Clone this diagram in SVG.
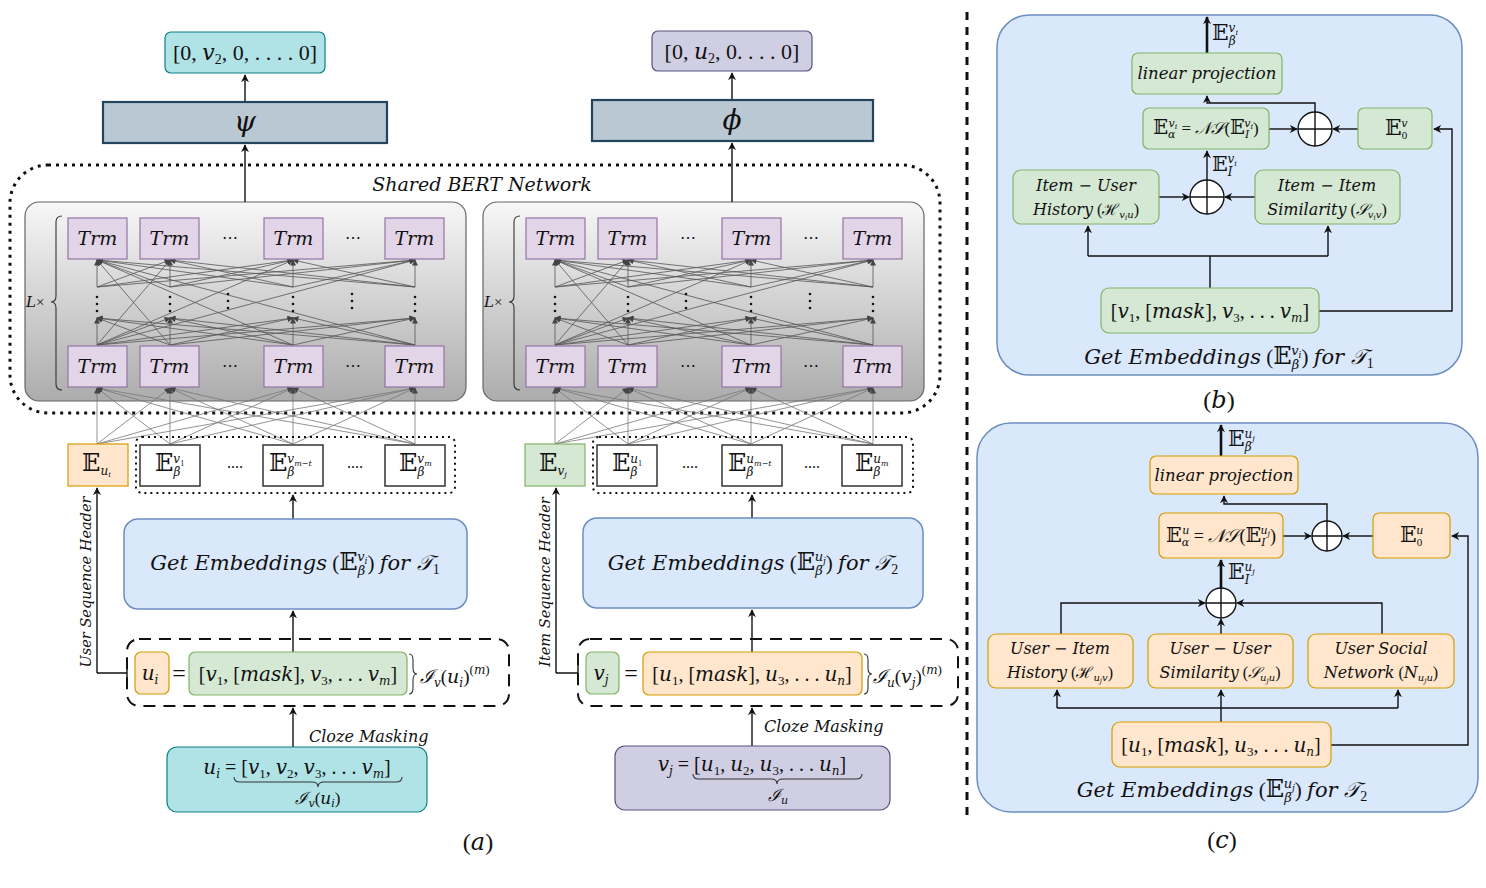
<svg xmlns="http://www.w3.org/2000/svg" width="1486" height="888" viewBox="0 0 1486 888">
<style>
.m{font-family:"Liberation Serif","DejaVu Serif",serif;fill:#111}
.i{font-family:"DejaVu Serif","Liberation Serif",serif;font-style:italic}
.E{font-size:1.15em}
.c{stroke:#111;stroke-width:1.4;fill:none}
.ca{stroke:#111;stroke-width:1.4;fill:none;marker-end:url(#ah)}
.ct{stroke:#111;stroke-width:2.6;fill:none;marker-end:url(#ah)}
.mesh line{stroke:#555;stroke-width:0.8;marker-end:url(#sh)}
.inp line{stroke:#777;stroke-width:0.8;marker-end:url(#sh)}
.trm{fill:#e1d5e7;stroke:#9673a6;stroke-width:1.2}
.grn{fill:#d5e8d4;stroke:#82b366;stroke-width:1.2}
.org{fill:#ffe6cc;stroke:#d79b00;stroke-width:1.2}
.blu{fill:#dae8fc;stroke:#6c8ebf;stroke-width:1.5}
.teal{fill:#b0e3e6;stroke:#0e8088;stroke-width:1.2}
.pur{fill:#d0cee2;stroke:#56517e;stroke-width:1.2}
.slate{fill:#bac8d3;stroke:#23445d;stroke-width:2.2}
.wht{fill:#fff;stroke:#333;stroke-width:1.5}
.brace{stroke:#333;stroke-width:1.1;fill:none}
.dot{fill:#111}
</style>
<defs>
<marker id="ah" viewBox="0 0 10 10" refX="9" refY="5" markerWidth="8" markerHeight="8" markerUnits="userSpaceOnUse" orient="auto"><path d="M0,0 L10,5 L0,10 L3,5 z" fill="#111"/></marker>
<marker id="sh" viewBox="0 0 10 10" refX="9" refY="5" markerWidth="7" markerHeight="6" markerUnits="userSpaceOnUse" orient="auto"><path d="M0,0 L10,5 L0,10 z" fill="#444"/></marker>
<linearGradient id="gg" x1="0" y1="0" x2="0" y2="1"><stop offset="0" stop-color="#f7f7f7"/><stop offset="1" stop-color="#acacac"/></linearGradient>
<g id="bertmesh">
<g class="inp">
<line x1="97" y1="444" x2="97" y2="388"/><line x1="97" y1="444" x2="170" y2="388"/><line x1="97" y1="444" x2="293" y2="388"/><line x1="97" y1="444" x2="415" y2="388"/>
<line x1="170" y1="444" x2="97" y2="388"/><line x1="170" y1="444" x2="170" y2="388"/><line x1="170" y1="444" x2="293" y2="388"/><line x1="170" y1="444" x2="415" y2="388"/>
<line x1="293" y1="444" x2="97" y2="388"/><line x1="293" y1="444" x2="170" y2="388"/><line x1="293" y1="444" x2="293" y2="388"/><line x1="293" y1="444" x2="415" y2="388"/>
<line x1="415" y1="444" x2="97" y2="388"/><line x1="415" y1="444" x2="170" y2="388"/><line x1="415" y1="444" x2="293" y2="388"/><line x1="415" y1="444" x2="415" y2="388"/>
</g>
<g class="mesh">
<line x1="97" y1="345" x2="97" y2="318"/><line x1="97" y1="345" x2="170" y2="318"/><line x1="97" y1="345" x2="293" y2="318"/><line x1="97" y1="345" x2="415" y2="318"/>
<line x1="170" y1="345" x2="97" y2="318"/><line x1="170" y1="345" x2="170" y2="318"/><line x1="170" y1="345" x2="293" y2="318"/><line x1="170" y1="345" x2="415" y2="318"/>
<line x1="293" y1="345" x2="97" y2="318"/><line x1="293" y1="345" x2="170" y2="318"/><line x1="293" y1="345" x2="293" y2="318"/><line x1="293" y1="345" x2="415" y2="318"/>
<line x1="415" y1="345" x2="97" y2="318"/><line x1="415" y1="345" x2="170" y2="318"/><line x1="415" y1="345" x2="293" y2="318"/><line x1="415" y1="345" x2="415" y2="318"/>
<line x1="97" y1="287" x2="97" y2="260"/><line x1="97" y1="287" x2="170" y2="260"/><line x1="97" y1="287" x2="293" y2="260"/><line x1="97" y1="287" x2="415" y2="260"/>
<line x1="170" y1="287" x2="97" y2="260"/><line x1="170" y1="287" x2="170" y2="260"/><line x1="170" y1="287" x2="293" y2="260"/><line x1="170" y1="287" x2="415" y2="260"/>
<line x1="293" y1="287" x2="97" y2="260"/><line x1="293" y1="287" x2="170" y2="260"/><line x1="293" y1="287" x2="293" y2="260"/><line x1="293" y1="287" x2="415" y2="260"/>
<line x1="415" y1="287" x2="97" y2="260"/><line x1="415" y1="287" x2="170" y2="260"/><line x1="415" y1="287" x2="293" y2="260"/><line x1="415" y1="287" x2="415" y2="260"/>
<line x1="97" y1="345" x2="170" y2="260"/><line x1="170" y1="345" x2="97" y2="260"/><line x1="97" y1="345" x2="293" y2="260"/><line x1="293" y1="345" x2="97" y2="260"/><line x1="415" y1="345" x2="97" y2="260"/><line x1="97" y1="345" x2="415" y2="260"/>
</g>
<g class="dot">
<circle cx="97" cy="297" r="1.3"/><circle cx="97" cy="304" r="1.3"/><circle cx="97" cy="311" r="1.3"/>
<circle cx="170" cy="297" r="1.3"/><circle cx="170" cy="304" r="1.3"/><circle cx="170" cy="311" r="1.3"/>
<circle cx="228" cy="294" r="1.3"/><circle cx="228" cy="301" r="1.3"/><circle cx="228" cy="308" r="1.3"/>
<circle cx="293" cy="297" r="1.3"/><circle cx="293" cy="304" r="1.3"/><circle cx="293" cy="311" r="1.3"/>
<circle cx="352" cy="294" r="1.3"/><circle cx="352" cy="301" r="1.3"/><circle cx="352" cy="308" r="1.3"/>
<circle cx="415" cy="297" r="1.3"/><circle cx="415" cy="304" r="1.3"/><circle cx="415" cy="311" r="1.3"/>
</g>
</g>
</defs>
<rect width="1486" height="888" fill="#fff"/>

<!-- Containers -->
<g id="shared-bert">
<rect x="10" y="165" width="930" height="248" rx="38" fill="none" stroke="#111" stroke-width="3" stroke-dasharray="3 5"/>
<text class="m i" x="482" y="191" font-size="19" text-anchor="middle">Shared BERT Network</text>
</g>
<g id="bert-left">
<rect x="25" y="202" width="441" height="199" rx="14" fill="url(#gg)" stroke="#666" stroke-width="1.2"/>
<text class="m" x="26" y="307" font-size="15"><tspan class="i">L</tspan>×</text>
<path class="brace" d="M62 216 Q56 216 56 222 L56 296 Q56 302 51 302 Q56 302 56 308 L56 384 Q56 390 62 390"/>
</g>
<g id="bert-right">
<rect x="483" y="202" width="441" height="199" rx="14" fill="url(#gg)" stroke="#666" stroke-width="1.2"/>
<text class="m" x="484" y="307" font-size="15"><tspan class="i">L</tspan>×</text>
<path class="brace" d="M520 216 Q514 216 514 222 L514 296 Q514 302 509 302 Q514 302 514 308 L514 384 Q514 390 520 390"/>
</g>
<g id="panel-b">
<rect class="blu" x="997" y="15" width="465" height="360" rx="32" stroke-width="2"/>
</g>
<g id="panel-c">
<rect class="blu" x="977" y="423" width="501" height="389" rx="34" stroke-width="2"/>
</g>

<!-- Connectors -->
<g id="connectors">
<use href="#bertmesh"/>
<use href="#bertmesh" transform="translate(458,0)"/>
<path class="ca" d="M245 102 V75"/>
<path class="ca" d="M245 202 V145"/>
<path class="ca" d="M732 100 V73"/>
<path class="ca" d="M732 202 V143"/>
<path class="ca" d="M293 519 V495"/>
<path class="ca" d="M752 518 V495"/>
<path class="ca" d="M97 673 V488"/>
<path class="c" d="M97 673 H127 M127 665 V681"/>
<path class="ca" d="M556 673 V488"/>
<path class="c" d="M556 673 H578 M578 665 V681"/>
<path class="ca" d="M293 652 V611"/>
<path class="ca" d="M293 747 V708"/>
<path class="ca" d="M752 652 V610"/>
<path class="ca" d="M752 746 V708"/>
<line x1="967" y1="12" x2="967" y2="815" stroke="#111" stroke-width="3" stroke-dasharray="8 7"/>
<path class="ct" d="M1207 53 V17"/>
<path class="ca" d="M1269 129 H1297"/>
<path class="ca" d="M1358 129 H1333"/>
<path class="ca" d="M1315 112 V103 H1207 V96"/>
<path class="ca" d="M1207 180 V151"/>
<path class="ca" d="M1159 197 H1189"/>
<path class="ca" d="M1255 197 H1225"/>
<path class="c" d="M1210 288 V256 M1088 256 H1328"/>
<path class="ca" d="M1088 256 V226"/>
<path class="ca" d="M1328 256 V226"/>
<path class="ca" d="M1319 311 H1452 V129 H1434"/>
<path class="ct" d="M1221 456 V425"/>
<path class="ca" d="M1283 536 H1311"/>
<path class="ca" d="M1373 536 H1343"/>
<path class="ca" d="M1327 521 V504 H1224 V496"/>
<path class="ct" d="M1221 588 V560"/>
<path class="ca" d="M1061 634 V603 H1205"/>
<path class="ca" d="M1382 634 V603 H1237"/>
<path class="ca" d="M1221 634 V619"/>
<path class="c" d="M1221 722 V708 M1057 708 H1398"/>
<path class="ca" d="M1057 708 V690"/>
<path class="ca" d="M1221 708 V690"/>
<path class="ca" d="M1398 708 V690"/>
<path class="ca" d="M1331 745 H1468 V536 H1452"/>
</g>

<!-- Outputs -->
<g id="out-left">
<rect class="teal" x="165" y="32" width="160" height="41" rx="6"/>
<text class="m" x="245" y="60" font-size="22" text-anchor="middle">[0, <tspan class="i">v</tspan><tspan font-size="14" dy="4">2</tspan><tspan dy="-4">, 0, . . . . 0]</tspan></text>
</g>
<g id="psi">
<rect class="slate" x="103" y="102" width="284" height="41"/>
<text class="m i" x="245" y="131" font-size="28" text-anchor="middle">ψ</text>
</g>
<g id="out-right">
<rect class="pur" x="652" y="31" width="160" height="40" rx="6"/>
<text class="m" x="732" y="59" font-size="22" text-anchor="middle">[0, <tspan class="i">u</tspan><tspan font-size="14" dy="4">2</tspan><tspan dy="-4">, 0. . . . 0]</tspan></text>
</g>
<g id="phi">
<rect class="slate" x="592" y="100" width="281" height="41"/>
<text class="m i" x="732" y="129" font-size="28" text-anchor="middle">ϕ</text>
</g>

<!-- Trm blocks -->
<g id="trm-left">
<rect class="trm" x="68" y="218" width="59" height="41"/><text class="m i" x="97.5" y="245" font-size="19" text-anchor="middle">Trm</text>
<rect class="trm" x="140" y="218" width="59" height="41"/><text class="m i" x="169.5" y="245" font-size="19" text-anchor="middle">Trm</text>
<rect class="trm" x="264" y="218" width="59" height="41"/><text class="m i" x="293.5" y="245" font-size="19" text-anchor="middle">Trm</text>
<rect class="trm" x="385" y="218" width="59" height="41"/><text class="m i" x="414.5" y="245" font-size="19" text-anchor="middle">Trm</text>
<rect class="trm" x="68" y="346" width="59" height="41"/><text class="m i" x="97.5" y="373" font-size="19" text-anchor="middle">Trm</text>
<rect class="trm" x="140" y="346" width="59" height="41"/><text class="m i" x="169.5" y="373" font-size="19" text-anchor="middle">Trm</text>
<rect class="trm" x="264" y="346" width="59" height="41"/><text class="m i" x="293.5" y="373" font-size="19" text-anchor="middle">Trm</text>
<rect class="trm" x="385" y="346" width="59" height="41"/><text class="m i" x="414.5" y="373" font-size="19" text-anchor="middle">Trm</text>
<text class="m" x="230" y="243" font-size="16" text-anchor="middle">⋯</text>
<text class="m" x="353" y="243" font-size="16" text-anchor="middle">⋯</text>
<text class="m" x="230" y="371" font-size="16" text-anchor="middle">⋯</text>
<text class="m" x="353" y="371" font-size="16" text-anchor="middle">⋯</text>
</g>
<g id="trm-right">
<rect class="trm" x="526" y="218" width="59" height="41"/><text class="m i" x="555.5" y="245" font-size="19" text-anchor="middle">Trm</text>
<rect class="trm" x="598" y="218" width="59" height="41"/><text class="m i" x="627.5" y="245" font-size="19" text-anchor="middle">Trm</text>
<rect class="trm" x="722" y="218" width="59" height="41"/><text class="m i" x="751.5" y="245" font-size="19" text-anchor="middle">Trm</text>
<rect class="trm" x="843" y="218" width="59" height="41"/><text class="m i" x="872.5" y="245" font-size="19" text-anchor="middle">Trm</text>
<rect class="trm" x="526" y="346" width="59" height="41"/><text class="m i" x="555.5" y="373" font-size="19" text-anchor="middle">Trm</text>
<rect class="trm" x="598" y="346" width="59" height="41"/><text class="m i" x="627.5" y="373" font-size="19" text-anchor="middle">Trm</text>
<rect class="trm" x="722" y="346" width="59" height="41"/><text class="m i" x="751.5" y="373" font-size="19" text-anchor="middle">Trm</text>
<rect class="trm" x="843" y="346" width="59" height="41"/><text class="m i" x="872.5" y="373" font-size="19" text-anchor="middle">Trm</text>
<text class="m" x="688" y="243" font-size="16" text-anchor="middle">⋯</text>
<text class="m" x="811" y="243" font-size="16" text-anchor="middle">⋯</text>
<text class="m" x="688" y="371" font-size="16" text-anchor="middle">⋯</text>
<text class="m" x="811" y="371" font-size="16" text-anchor="middle">⋯</text>
</g>

<!-- Embedding rows -->
<g id="emb-left">
<rect class="org" x="68" y="444" width="60" height="42"/>
<text class="m" x="82" y="471" font-size="21"><tspan class="E">𝔼</tspan><tspan class="i" font-size="12" dy="4">u</tspan><tspan class="i" font-size="8" dy="2">i</tspan></text>
<rect x="136" y="437" width="319" height="56" rx="6" fill="none" stroke="#111" stroke-width="2" stroke-dasharray="2 4"/>
<rect class="wht" x="140" y="445" width="60" height="41"/>
<text class="m" x="155" y="471" font-size="21"><tspan class="E">𝔼</tspan><tspan class="i" font-size="12" dy="5">β</tspan><tspan class="i" font-size="12" dx="-7" dy="-13">v</tspan><tspan font-size="8" dy="3">1</tspan></text>
<rect class="wht" x="263" y="445" width="60" height="41"/>
<text class="m" x="269" y="471" font-size="21"><tspan class="E">𝔼</tspan><tspan class="i" font-size="12" dy="5">β</tspan><tspan class="i" font-size="12" dx="-7" dy="-13">v</tspan><tspan class="i" font-size="8" dy="3">m−t</tspan></text>
<rect class="wht" x="385" y="445" width="60" height="41"/>
<text class="m" x="399" y="471" font-size="21"><tspan class="E">𝔼</tspan><tspan class="i" font-size="12" dy="5">β</tspan><tspan class="i" font-size="12" dx="-7" dy="-13">v</tspan><tspan class="i" font-size="8" dy="3">m</tspan></text>
<text class="m" x="235" y="468" font-size="16" text-anchor="middle">....</text>
<text class="m" x="355" y="468" font-size="16" text-anchor="middle">....</text>
</g>
<g id="emb-right">
<rect class="grn" x="525" y="444" width="60" height="42"/>
<text class="m" x="539" y="471" font-size="21"><tspan class="E">𝔼</tspan><tspan class="i" font-size="12" dy="4">v</tspan><tspan class="i" font-size="8" dy="2">j</tspan></text>
<rect x="593" y="437" width="320" height="56" rx="6" fill="none" stroke="#111" stroke-width="2" stroke-dasharray="2 4"/>
<rect class="wht" x="597" y="445" width="60" height="41"/>
<text class="m" x="612" y="471" font-size="21"><tspan class="E">𝔼</tspan><tspan class="i" font-size="12" dy="5">β</tspan><tspan class="i" font-size="12" dx="-7" dy="-13">u</tspan><tspan font-size="8" dy="3">1</tspan></text>
<rect class="wht" x="722" y="445" width="60" height="41"/>
<text class="m" x="728" y="471" font-size="21"><tspan class="E">𝔼</tspan><tspan class="i" font-size="12" dy="5">β</tspan><tspan class="i" font-size="12" dx="-7" dy="-13">u</tspan><tspan class="i" font-size="8" dy="3">m−t</tspan></text>
<rect class="wht" x="842" y="445" width="60" height="41"/>
<text class="m" x="855" y="471" font-size="21"><tspan class="E">𝔼</tspan><tspan class="i" font-size="12" dy="5">β</tspan><tspan class="i" font-size="12" dx="-7" dy="-13">u</tspan><tspan class="i" font-size="8" dy="3">m</tspan></text>
<text class="m" x="690" y="468" font-size="16" text-anchor="middle">....</text>
<text class="m" x="812" y="468" font-size="16" text-anchor="middle">....</text>
</g>

<!-- Get embeddings boxes -->
<g id="getemb-left">
<rect class="blu" x="124" y="519" width="343" height="90" rx="14"/>
<text class="m" x="295" y="570" font-size="21" text-anchor="middle"><tspan class="i">Get Embeddings</tspan> (<tspan class="E">𝔼</tspan><tspan class="i" font-size="13" dy="5">β</tspan><tspan class="i" font-size="13" dx="-8" dy="-14">v</tspan><tspan class="i" font-size="9" dy="3">i</tspan><tspan dy="6">) </tspan><tspan class="i">for 𝒯</tspan><tspan font-size="14" dy="4">1</tspan></text>
</g>
<g id="getemb-right">
<rect class="blu" x="583" y="518" width="340" height="90" rx="14"/>
<text class="m" x="753" y="570" font-size="21" text-anchor="middle"><tspan class="i">Get Embeddings</tspan> (<tspan class="E">𝔼</tspan><tspan class="i" font-size="13" dy="5">β</tspan><tspan class="i" font-size="13" dx="-8" dy="-14">u</tspan><tspan class="i" font-size="9" dy="3">j</tspan><tspan dy="6">) </tspan><tspan class="i">for 𝒯</tspan><tspan font-size="14" dy="4">2</tspan></text>
</g>

<!-- Sequence headers -->
<g id="header-left">
<text class="m i" font-size="14.5" text-anchor="middle" transform="translate(91,582) rotate(-90)">User Sequence Header</text>
</g>
<g id="header-right">
<text class="m i" font-size="14.5" text-anchor="middle" transform="translate(550,582) rotate(-90)">Item Sequence Header</text>
</g>

<!-- Masked sequences -->
<g id="masked-left">
<rect x="127" y="639" width="382" height="67" rx="12" fill="none" stroke="#111" stroke-width="2" stroke-dasharray="12 8"/>
<rect class="org" x="135" y="652" width="34" height="42" rx="6"/>
<text class="m i" x="150" y="680" font-size="20" text-anchor="middle">u<tspan font-size="12" dy="4">i</tspan></text>
<text class="m" x="179" y="681" font-size="24" text-anchor="middle" fill="#555">=</text>
<rect class="grn" x="189" y="652" width="218" height="43" rx="6"/>
<text class="m" x="298" y="681" font-size="20" text-anchor="middle">[<tspan class="i">v</tspan><tspan font-size="13" dy="4">1</tspan><tspan dy="-4">, [</tspan><tspan class="i">mask</tspan>], <tspan class="i">v</tspan><tspan font-size="13" dy="4">3</tspan><tspan dy="-4">, . . . </tspan><tspan class="i">v</tspan><tspan class="i" font-size="12" dy="4">m</tspan><tspan dy="-4">]</tspan></text>
<path class="brace" d="M409 654 Q413 654 413 660 L413 668 Q413 674 417 674 Q413 674 413 680 L413 688 Q413 694 409 694"/>
<text class="m" x="420" y="683" font-size="19"><tspan class="i">ℐ</tspan><tspan class="i" font-size="12" dy="4">v</tspan><tspan dy="-4">(</tspan><tspan class="i">u</tspan><tspan class="i" font-size="12" dy="4">i</tspan><tspan dy="-4">)</tspan><tspan font-size="13" dy="-9">(</tspan><tspan class="i" font-size="12">m</tspan><tspan font-size="13">)</tspan></text>
</g>
<g id="masked-right">
<rect x="578" y="639" width="380" height="67" rx="12" fill="none" stroke="#111" stroke-width="2" stroke-dasharray="12 8"/>
<rect class="grn" x="586" y="652" width="33" height="42" rx="6"/>
<text class="m i" x="601" y="680" font-size="20" text-anchor="middle">v<tspan font-size="12" dy="4">j</tspan></text>
<text class="m" x="631" y="681" font-size="24" text-anchor="middle">=</text>
<rect class="org" x="643" y="652" width="219" height="43" rx="6"/>
<text class="m" x="752" y="681" font-size="20" text-anchor="middle">[<tspan class="i">u</tspan><tspan font-size="13" dy="4">1</tspan><tspan dy="-4">, [</tspan><tspan class="i">mask</tspan>], <tspan class="i">u</tspan><tspan font-size="13" dy="4">3</tspan><tspan dy="-4">, . . . </tspan><tspan class="i">u</tspan><tspan class="i" font-size="12" dy="4">n</tspan><tspan dy="-4">]</tspan></text>
<path class="brace" d="M864 654 Q868 654 868 660 L868 668 Q868 674 872 674 Q868 674 868 680 L868 688 Q868 694 864 694"/>
<text class="m" x="873" y="683" font-size="19"><tspan class="i">ℐ</tspan><tspan class="i" font-size="12" dy="4">u</tspan><tspan dy="-4">(</tspan><tspan class="i">v</tspan><tspan class="i" font-size="12" dy="4">j</tspan><tspan dy="-4">)</tspan><tspan font-size="13" dy="-9">(</tspan><tspan class="i" font-size="12">m</tspan><tspan font-size="13">)</tspan></text>
</g>

<!-- Cloze masking -->
<text class="m i" x="309" y="742" font-size="16">Cloze Masking</text>
<text class="m i" x="764" y="732" font-size="16">Cloze Masking</text>

<!-- Input sequences -->
<g id="seq-user">
<rect class="teal" x="167" y="747" width="260" height="65" rx="10"/>
<text class="m" x="297" y="774" font-size="20" text-anchor="middle"><tspan class="i">u</tspan><tspan class="i" font-size="12" dy="4">i</tspan><tspan dy="-4"> = [</tspan><tspan class="i">v</tspan><tspan font-size="13" dy="4">1</tspan><tspan dy="-4">, </tspan><tspan class="i">v</tspan><tspan font-size="13" dy="4">2</tspan><tspan dy="-4">, </tspan><tspan class="i">v</tspan><tspan font-size="13" dy="4">3</tspan><tspan dy="-4">, . . . </tspan><tspan class="i">v</tspan><tspan class="i" font-size="12" dy="4">m</tspan><tspan dy="-4">]</tspan></text>
<path class="brace" d="M234 777 Q234 782 240 782 L312 782 Q318 782 318 787 Q318 782 324 782 L396 782 Q402 782 402 777"/>
<text class="m" x="318" y="804" font-size="17" text-anchor="middle"><tspan class="i">ℐ</tspan><tspan class="i" font-size="11" dy="3">v</tspan><tspan dy="-3">(</tspan><tspan class="i">u</tspan><tspan class="i" font-size="11" dy="3">i</tspan><tspan dy="-3">)</tspan></text>
</g>
<g id="seq-item">
<rect class="pur" x="615" y="746" width="275" height="64" rx="10"/>
<text class="m" x="752" y="771" font-size="20" text-anchor="middle"><tspan class="i">v</tspan><tspan class="i" font-size="12" dy="4">j</tspan><tspan dy="-4"> = [</tspan><tspan class="i">u</tspan><tspan font-size="13" dy="4">1</tspan><tspan dy="-4">, </tspan><tspan class="i">u</tspan><tspan font-size="13" dy="4">2</tspan><tspan dy="-4">, </tspan><tspan class="i">u</tspan><tspan font-size="13" dy="4">3</tspan><tspan dy="-4">, . . . </tspan><tspan class="i">u</tspan><tspan class="i" font-size="12" dy="4">n</tspan><tspan dy="-4">]</tspan></text>
<path class="brace" d="M693 774 Q693 779 699 779 L771 779 Q777 779 777 784 Q777 779 783 779 L856 779 Q862 779 862 774"/>
<text class="m" x="778" y="801" font-size="17" text-anchor="middle"><tspan class="i">ℐ</tspan><tspan class="i" font-size="11" dy="3">u</tspan></text>
</g>
<text class="m" x="478" y="850" font-size="24" text-anchor="middle">(<tspan class="i">a</tspan>)</text>

<!-- Panel (b) nodes -->
<g id="b-out-label"><text class="m" x="1212" y="40" font-size="19"><tspan class="E">𝔼</tspan><tspan class="i" font-size="12" dy="5">β</tspan><tspan class="i" font-size="12" dx="-7" dy="-13">v</tspan><tspan class="i" font-size="8" dy="3">i</tspan></text></g>
<g id="b-linproj">
<rect class="grn" x="1132" y="53" width="150" height="41" rx="6"/>
<text class="m i" x="1207" y="79" font-size="16.5" text-anchor="middle">linear projection</text>
</g>
<g id="b-ealpha">
<rect class="grn" x="1143" y="108" width="126" height="41" rx="6"/>
<text class="m" x="1206" y="134" font-size="17" text-anchor="middle"><tspan class="E">𝔼</tspan><tspan class="i" font-size="11" dy="4">α</tspan><tspan class="i" font-size="11" dx="-7" dy="-11">v</tspan><tspan class="i" font-size="8" dy="2">i</tspan><tspan dy="5"> = </tspan><tspan class="i">𝒩𝒮</tspan>(<tspan class="E">𝔼</tspan><tspan class="i" font-size="11" dy="4">I</tspan><tspan class="i" font-size="11" dx="-5" dy="-11">v</tspan><tspan class="i" font-size="8" dy="2">i</tspan><tspan dy="5">)</tspan></text>
</g>
<g id="b-plus1">
<circle cx="1315" cy="129" r="17" fill="#fff" stroke="#111" stroke-width="1.4"/>
<path class="c" d="M1298 129 H1332 M1315 112 V146"/>
</g>
<g id="b-e0">
<rect class="grn" x="1358" y="108" width="74" height="41" rx="6"/>
<text class="m" x="1385" y="135" font-size="19"><tspan class="E">𝔼</tspan><tspan font-size="11" dy="4">0</tspan><tspan class="i" font-size="11" dx="-6" dy="-12">v</tspan></text>
</g>
<g id="b-eI-label"><text class="m" x="1212" y="171" font-size="18"><tspan class="E">𝔼</tspan><tspan class="i" font-size="12" dy="5">I</tspan><tspan class="i" font-size="12" dx="-5" dy="-13">v</tspan><tspan class="i" font-size="8" dy="3">i</tspan></text></g>
<g id="b-plus2">
<circle cx="1207" cy="197" r="17" fill="#fff" stroke="#111" stroke-width="1.4"/>
<path class="c" d="M1190 197 H1224 M1207 180 V214"/>
</g>
<g id="b-hist">
<rect class="grn" x="1013" y="170" width="146" height="54" rx="8"/>
<text class="m i" x="1086" y="191" font-size="16" text-anchor="middle">Item − User</text>
<text class="m" x="1086" y="215" font-size="16" text-anchor="middle"><tspan class="i">History</tspan> (ℋ<tspan class="i" font-size="10" dy="3">v</tspan><tspan class="i" font-size="7" dy="2">i</tspan><tspan class="i" font-size="10" dy="-2">u</tspan><tspan dy="-3">)</tspan></text>
</g>
<g id="b-sim">
<rect class="grn" x="1255" y="170" width="145" height="54" rx="8"/>
<text class="m i" x="1327" y="191" font-size="16" text-anchor="middle">Item − Item</text>
<text class="m" x="1327" y="215" font-size="16" text-anchor="middle"><tspan class="i">Similarity</tspan> (<tspan class="i">𝒮</tspan><tspan class="i" font-size="10" dy="3">v</tspan><tspan class="i" font-size="7" dy="2">i</tspan><tspan class="i" font-size="10" dy="-2">v</tspan><tspan dy="-3">)</tspan></text>
</g>
<g id="b-list">
<rect class="grn" x="1101" y="288" width="218" height="45" rx="8"/>
<text class="m" x="1210" y="318" font-size="20" text-anchor="middle">[<tspan class="i">v</tspan><tspan font-size="13" dy="4">1</tspan><tspan dy="-4">, [</tspan><tspan class="i">mask</tspan>], <tspan class="i">v</tspan><tspan font-size="13" dy="4">3</tspan><tspan dy="-4">, . . . </tspan><tspan class="i">v</tspan><tspan class="i" font-size="12" dy="4">m</tspan><tspan dy="-4">]</tspan></text>
</g>
<g id="b-title">
<text class="m" x="1229" y="364" font-size="21" text-anchor="middle"><tspan class="i">Get Embeddings</tspan> (<tspan class="E">𝔼</tspan><tspan class="i" font-size="13" dy="5">β</tspan><tspan class="i" font-size="13" dx="-8" dy="-14">v</tspan><tspan class="i" font-size="9" dy="3">i</tspan><tspan dy="6">) </tspan><tspan class="i">for 𝒯</tspan><tspan font-size="14" dy="4">1</tspan></text>
</g>
<text class="m" x="1219" y="408" font-size="24" text-anchor="middle">(<tspan class="i">b</tspan>)</text>

<!-- Panel (c) nodes -->
<g id="c-out-label"><text class="m" x="1228" y="446" font-size="19"><tspan class="E">𝔼</tspan><tspan class="i" font-size="12" dy="5">β</tspan><tspan class="i" font-size="12" dx="-7" dy="-13">u</tspan><tspan class="i" font-size="8" dy="3">j</tspan></text></g>
<g id="c-linproj">
<rect class="org" x="1150" y="456" width="148" height="38" rx="6"/>
<text class="m i" x="1224" y="481" font-size="16.5" text-anchor="middle">linear projection</text>
</g>
<g id="c-ealpha">
<rect class="org" x="1159" y="513" width="124" height="45" rx="6"/>
<text class="m" x="1221" y="542" font-size="18" text-anchor="middle"><tspan class="E">𝔼</tspan><tspan class="i" font-size="11" dy="4">α</tspan><tspan class="i" font-size="11" dx="-7" dy="-12">u</tspan><tspan dy="8"> = </tspan><tspan class="i">𝒩𝒮</tspan>(<tspan class="E">𝔼</tspan><tspan class="i" font-size="11" dy="4">I</tspan><tspan class="i" font-size="11" dx="-5" dy="-12">u</tspan><tspan class="i" font-size="8" dy="2">j</tspan><tspan dy="6">)</tspan></text>
</g>
<g id="c-plus1">
<circle cx="1327" cy="536" r="15" fill="#fff" stroke="#111" stroke-width="1.4"/>
<path class="c" d="M1312 536 H1342 M1327 521 V551"/>
</g>
<g id="c-e0">
<rect class="org" x="1373" y="513" width="77" height="45" rx="6"/>
<text class="m" x="1400" y="542" font-size="19"><tspan class="E">𝔼</tspan><tspan font-size="11" dy="4">0</tspan><tspan class="i" font-size="11" dx="-6" dy="-12">u</tspan></text>
</g>
<g id="c-eI-label"><text class="m" x="1228" y="579" font-size="19"><tspan class="E">𝔼</tspan><tspan class="i" font-size="12" dy="5">I</tspan><tspan class="i" font-size="12" dx="-5" dy="-13">u</tspan><tspan class="i" font-size="8" dy="3">j</tspan></text></g>
<g id="c-plus2">
<circle cx="1221" cy="603" r="15" fill="#fff" stroke="#111" stroke-width="1.4"/>
<path class="c" d="M1206 603 H1236 M1221 588 V618"/>
</g>
<g id="c-hist">
<rect class="org" x="988" y="634" width="145" height="54" rx="8"/>
<text class="m i" x="1060" y="654" font-size="16" text-anchor="middle">User − Item</text>
<text class="m" x="1060" y="678" font-size="16" text-anchor="middle"><tspan class="i">History</tspan> (ℋ<tspan class="i" font-size="10" dy="3">u</tspan><tspan class="i" font-size="7" dy="2">j</tspan><tspan class="i" font-size="10" dy="-2">v</tspan><tspan dy="-3">)</tspan></text>
</g>
<g id="c-sim">
<rect class="org" x="1148" y="634" width="145" height="54" rx="8"/>
<text class="m i" x="1220" y="654" font-size="16" text-anchor="middle">User − User</text>
<text class="m" x="1220" y="678" font-size="16" text-anchor="middle"><tspan class="i">Similarity</tspan> (<tspan class="i">𝒮</tspan><tspan class="i" font-size="10" dy="3">u</tspan><tspan class="i" font-size="7" dy="2">j</tspan><tspan class="i" font-size="10" dy="-2">u</tspan><tspan dy="-3">)</tspan></text>
</g>
<g id="c-social">
<rect class="org" x="1308" y="634" width="146" height="54" rx="8"/>
<text class="m i" x="1381" y="654" font-size="16" text-anchor="middle">User Social</text>
<text class="m" x="1381" y="678" font-size="16" text-anchor="middle"><tspan class="i">Network</tspan> (<tspan class="i">N</tspan><tspan class="i" font-size="10" dy="3">u</tspan><tspan class="i" font-size="7" dy="2">j</tspan><tspan class="i" font-size="10" dy="-2">u</tspan><tspan dy="-3">)</tspan></text>
</g>
<g id="c-list">
<rect class="org" x="1112" y="722" width="219" height="45" rx="8"/>
<text class="m" x="1221" y="752" font-size="20" text-anchor="middle">[<tspan class="i">u</tspan><tspan font-size="13" dy="4">1</tspan><tspan dy="-4">, [</tspan><tspan class="i">mask</tspan>], <tspan class="i">u</tspan><tspan font-size="13" dy="4">3</tspan><tspan dy="-4">, . . . </tspan><tspan class="i">u</tspan><tspan class="i" font-size="12" dy="4">n</tspan><tspan dy="-4">]</tspan></text>
</g>
<g id="c-title">
<text class="m" x="1222" y="797" font-size="21" text-anchor="middle"><tspan class="i">Get Embeddings</tspan> (<tspan class="E">𝔼</tspan><tspan class="i" font-size="13" dy="5">β</tspan><tspan class="i" font-size="13" dx="-8" dy="-14">u</tspan><tspan class="i" font-size="9" dy="3">j</tspan><tspan dy="6">) </tspan><tspan class="i">for 𝒯</tspan><tspan font-size="14" dy="4">2</tspan></text>
</g>
<text class="m" x="1222" y="848" font-size="24" text-anchor="middle">(<tspan class="i">c</tspan>)</text>
</svg>
